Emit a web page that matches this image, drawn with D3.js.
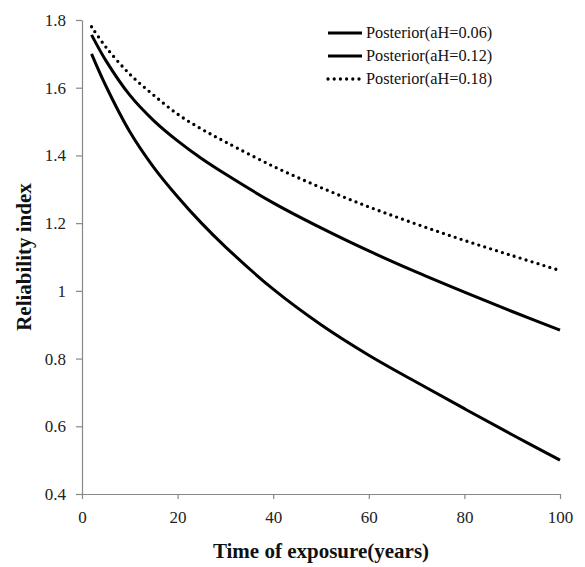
<!DOCTYPE html>
<meta charset="utf-8">
<head>
  <title>Reliability index vs time of exposure</title>
  <script src="https://cdn.jsdelivr.net/npm/d3@7"></script>
  <style>
    body {margin: 0; background: #fff;}
    .axis text {font-family: "Liberation Serif", "Times New Roman", serif; font-size: 17px; fill: #222;}
    .axis path, .axis line {stroke: #888; stroke-width: 1.2px;}
    .title {font-family: "Liberation Serif", "Times New Roman", serif; font-size: 21px; font-weight: bold; fill: #111;}
    .legend text {font-family: "Liberation Serif", "Times New Roman", serif; font-size: 16.3px; fill: #111;}
  </style>
</head>
<body>
<div id="chart"></div>
<script>
// data
var years = [2, 5, 10, 15, 20, 25, 30, 40, 50, 60, 70, 80, 90, 100];
var aH006 = [1.70, 1.605, 1.47, 1.365, 1.278, 1.20, 1.13, 1.005, 0.90, 0.81, 0.73, 0.652, 0.575, 0.50];
var aH012 = [1.756, 1.68, 1.578, 1.503, 1.443, 1.391, 1.345, 1.26, 1.186, 1.118, 1.055, 0.996, 0.939, 0.884];
var aH018 = [1.78, 1.72, 1.64, 1.578, 1.522, 1.478, 1.44, 1.368, 1.305, 1.248, 1.197, 1.149, 1.104, 1.06];
var seriesNames = ["Posterior(aH=0.06)", "Posterior(aH=0.12)", "Posterior(aH=0.18)"];
var xTicks = [0, 20, 40, 60, 80, 100];
var yTicks = [0.4, 0.6, 0.8, 1, 1.2, 1.4, 1.6, 1.8];

var margins = {top: 20, right: 25, bottom: 73, left: 82};
var width = 585, height = 567;
var w = width - margins.left - margins.right;
var h = height - margins.top - margins.bottom;

var svg = d3.select("#chart").append("svg")
    .attr("width", width)
    .attr("height", height);

var g = svg.append("g")
    .attr("transform", "translate(" + margins.left + "," + margins.top + ")");

var x = d3.scaleLinear().domain([0, 100]).range([0, w]);
var y = d3.scaleLinear().domain([0.4, 1.8]).range([h, 0]);

// axes
g.append("g")
    .attr("class", "axis")
    .attr("transform", "translate(0," + h + ")")
    .call(d3.axisBottom(x).tickValues(xTicks).tickSize(5).tickSizeOuter(0).tickPadding(12));

g.append("g")
    .attr("class", "axis")
    .call(d3.axisLeft(y).tickValues(yTicks).tickSize(6).tickSizeOuter(0).tickPadding(10)
      .tickFormat(function(d){ return d3.format("")(+d.toFixed(1)); }));

// series
var series = [aH006, aH012, aH018].map(function(vals, i){
    return {name: seriesNames[i], values: years.map(function(t, j){ return {t: t, v: vals[j]}; })};
});

var line = d3.line()
    .x(function(d){ return x(d.t); })
    .y(function(d){ return y(d.v); })
    .curve(d3.curveCatmullRom.alpha(0.5));

g.selectAll(".series")
    .data(series)
    .enter()
    .append("path")
    .attr("class", "series")
    .attr("d", function(d){ return line(d.values); })
    .attr("fill", "none")
    .attr("stroke", "#000")
    .attr("stroke-width", function(d, i){ return i == 2 ? 3.3 : 3; })
    .attr("stroke-linecap", function(d, i){ return i == 2 ? "round" : "butt"; })
    .attr("stroke-dasharray", function(d, i){ return i == 2 ? "0,6.2" : null; });

// axis titles
svg.append("text")
    .attr("class", "title")
    .attr("x", margins.left + w / 2)
    .attr("y", 558)
    .attr("text-anchor", "middle")
    .text("Time of exposure(years)");

svg.append("text")
    .attr("class", "title")
    .attr("transform", "translate(31," + (margins.top + h / 2) + ") rotate(-90)")
    .attr("text-anchor", "middle")
    .text("Reliability index");

// legend
var legend = svg.append("g").attr("class", "legend");
var rows = legend.selectAll("g")
    .data(series)
    .enter()
    .append("g")
    .attr("transform", function(d, i){ return "translate(328," + (33 + i * 23) + ")"; });

rows.append("line")
    .attr("x1", 0).attr("x2", 34)
    .attr("y1", 0).attr("y2", 0)
    .attr("stroke", "#000")
    .attr("stroke-width", function(d, i){ return i == 2 ? 3.3 : 3; })
    .attr("stroke-linecap", function(d, i){ return i == 2 ? "round" : "butt"; })
    .attr("stroke-dasharray", function(d, i){ return i == 2 ? "0,6.2" : null; });

rows.append("text")
    .attr("x", 38)
    .attr("y", 5)
    .text(function(d){ return d.name; });
</script>
</body>
</html>
